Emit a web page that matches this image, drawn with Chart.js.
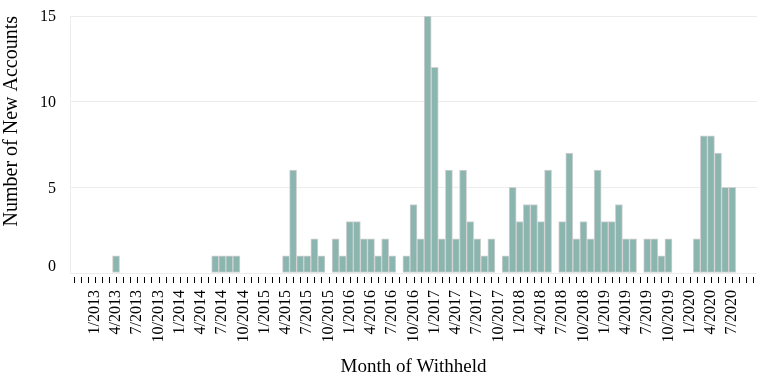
<!DOCTYPE html>
<html>
<head>
<meta charset="utf-8">
<script src="https://cdn.jsdelivr.net/npm/chart.js@4/dist/chart.umd.min.js"></script>
<style>
  html, body { margin: 0; padding: 0; background: #fff; }
  #wrap { width: 762px; height: 389px; }
</style>
</head>
<body>
<div id="wrap"><canvas id="chart"></canvas></div>
<script>
// months from 10/2012 to 10/2020
const firstYear = 2012;
const firstMonth = 10;
const monthCount = 97;
const months = [];
for (let k = 0; k < monthCount; k++) {
  const m = (firstMonth - 1 + k) % 12 + 1;
  const y = firstYear + Math.floor((firstMonth - 1 + k) / 12);
  months.push(m + "/" + y);
}

// new accounts per month
const newAccounts = [
  0, 0, 0,                                  // 2012 Oct-Dec
  0, 0, 0, 1, 0, 0, 0, 0, 0, 0, 0, 0,       // 2013
  0, 0, 0, 0, 0, 1, 1, 1, 1, 0, 0, 0,       // 2014
  0, 0, 0, 1, 6, 1, 1, 2, 1, 0, 2, 1,       // 2015
  3, 3, 2, 2, 1, 2, 1, 0, 1, 4, 2, 15,      // 2016
  12, 2, 6, 2, 6, 3, 2, 1, 2, 0, 1, 5,      // 2017
  3, 4, 4, 3, 6, 0, 3, 7, 2, 3, 2, 6,       // 2018
  3, 3, 4, 2, 2, 0, 2, 2, 1, 2, 0, 0,       // 2019
  0, 2, 8, 8, 7, 5, 5, 0, 0, 0              // 2020 Jan-Oct
];

const xTickLabels = [
  "1/2013", "4/2013", "7/2013", "10/2013",
  "1/2014", "4/2014", "7/2014", "10/2014",
  "1/2015", "4/2015", "7/2015", "10/2015",
  "1/2016", "4/2016", "7/2016", "10/2016",
  "1/2017", "4/2017", "7/2017", "10/2017",
  "1/2018", "4/2018", "7/2018", "10/2018",
  "1/2019", "4/2019", "7/2019", "10/2019",
  "1/2020", "4/2020", "7/2020"
];
const yTickValues = [0, 5, 10, 15];

const serif = "'Liberation Serif', 'Times New Roman', serif";

// y labels flushed at the ends, and month tick marks a bit below the baseline
const axisExtras = {
  id: "axisExtras",
  afterDraw(chart) {
    const ctx = chart.ctx;
    const xs = chart.scales.x;
    const ys = chart.scales.y;
    ctx.save();
    ctx.strokeStyle = "#000";
    ctx.lineWidth = 1;
    ctx.beginPath();
    for (let i = 0; i < months.length; i++) {
      const px = Math.round(xs.getPixelForValue(i)) + 0.5;
      ctx.moveTo(px, ys.bottom + 4);
      ctx.lineTo(px, ys.bottom + 10);
    }
    ctx.stroke();

    ctx.fillStyle = "#000";
    ctx.font = "16px " + serif;
    ctx.textAlign = "right";
    yTickValues.forEach(v => {
      const py = ys.getPixelForValue(v);
      if (v === 0) {
        ctx.textBaseline = "alphabetic";
        ctx.fillText(String(v), chart.chartArea.left - 14, py - 2);
      } else {
        ctx.textBaseline = "middle";
        ctx.fillText(String(v), chart.chartArea.left - 14, py + 1);
      }
    });
    ctx.restore();
  }
};

const ctx = document.getElementById("chart").getContext("2d");
new Chart(ctx, {
  type: "bar",
  data: {
    labels: months,
    datasets: [{
      label: "Number of New Accounts",
      data: newAccounts,
      backgroundColor: "#8bb6b0",
      borderColor: "#d2d2d2",
      borderWidth: 1,
      borderSkipped: false,
      barPercentage: 1,
      categoryPercentage: 1
    }]
  },
  options: {
    responsive: true,
    maintainAspectRatio: false,
    devicePixelRatio: 1,
    animation: false,
    layout: { padding: { left: 0, right: 5, top: 16, bottom: 11 } },
    plugins: {
      legend: { display: false },
      tooltip: { enabled: false }
    },
    scales: {
      x: {
        afterFit: s => { s.height = 105; s.paddingLeft = 0; s.paddingRight = 0; },
        grid: { display: false, drawTicks: false },
        border: { display: false },
        ticks: {
          autoSkip: false,
          minRotation: 90,
          maxRotation: 90,
          padding: 17,
          color: "#000",
          font: { family: serif, size: 16 },
          callback: function(v, i) {
            const lab = months[i];
            return xTickLabels.includes(lab) ? lab : "";
          }
        },
        title: {
          display: true,
          text: "Month of Withheld",
          color: "#000",
          font: { family: serif, size: 19 },
          padding: 0
        }
      },
      y: {
        min: 0,
        max: 15,
        afterFit: s => { s.width = 70; },
        grid: { color: "#ececec", drawTicks: false },
        border: { display: true, color: "#ececec" },
        ticks: { stepSize: 5, display: false },
        title: {
          display: true,
          text: "Number of New Accounts",
          align: "end",
          color: "#000",
          font: { family: serif, size: 20 },
          padding: 0
        }
      }
    }
  },
  plugins: [axisExtras]
});
</script>
</body>
</html>
